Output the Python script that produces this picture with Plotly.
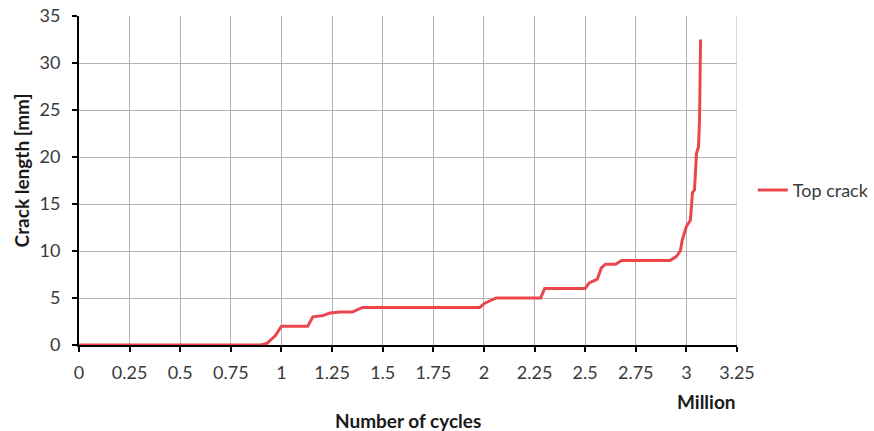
import plotly.graph_objects as go

# Crack growth record (cycles in millions, crack length in mm)
cycles_million = [0.0, 0.90, 0.93, 0.95, 0.97, 1.00, 1.13, 1.155, 1.20, 1.24, 1.29, 1.35,
                  1.40, 1.98, 2.00, 2.02, 2.06, 2.28, 2.30, 2.49, 2.50, 2.52, 2.56, 2.58,
                  2.60, 2.65, 2.68, 2.92, 2.95, 2.97, 2.98, 3.00, 3.02, 3.03, 3.04, 3.05,
                  3.06, 3.065, 3.07]
crack_mm = [0.0, 0.0, 0.2, 0.6, 1.0, 2.0, 2.0, 3.0, 3.1, 3.4, 3.5, 3.5,
            4.0, 4.0, 4.4, 4.6, 5.0, 5.0, 6.0, 6.0, 6.0, 6.6, 7.0, 8.2,
            8.6, 8.6, 9.0, 9.0, 9.4, 10.0, 11.2, 12.6, 13.3, 16.2, 16.5, 20.4,
            21.1, 24.0, 32.5]

x_ticks = [0, 0.25, 0.5, 0.75, 1, 1.25, 1.5, 1.75, 2, 2.25, 2.5, 2.75, 3, 3.25]
x_tick_text = ["0", "0.25", "0.5", "0.75", "1", "1.25", "1.5", "1.75", "2",
               "2.25", "2.5", "2.75", "3", "3.25"]
y_ticks = [0, 5, 10, 15, 20, 25, 30, 35]

font_family = "Lato, 'Open Sans', sans-serif"
tick_font = dict(family=font_family, size=18, color="#3a3a3a")
title_font = dict(family=font_family, size=19, color="#1a1a1a")
grid_color = "#b2b2b2"

fig = go.Figure()
fig.add_trace(go.Scatter(
    x=cycles_million, y=crack_mm, mode="lines", name="Top crack",
    line=dict(color="#ea474c", width=3),
))

fig.update_layout(
    width=874, height=431,
    margin=dict(l=79, r=137, t=16, b=86, autoexpand=False),
    paper_bgcolor="white", plot_bgcolor="white",
    font=tick_font,
    showlegend=True,
    legend=dict(x=1.024, y=0.47, xanchor="left", yanchor="middle",
                font=dict(family=font_family, size=18, color="#3a3a3a"),
                bgcolor="rgba(0,0,0,0)"),
    xaxis=dict(range=[0, 3.25], tickvals=x_ticks, ticktext=x_tick_text,
               tickfont=tick_font,
               showgrid=True, gridcolor=grid_color, gridwidth=1,
               showline=True, linecolor="black", linewidth=2,
               ticks="outside", ticklen=5, tickcolor="black", tickwidth=2,
               ticklabelstandoff=5, zeroline=False),
    yaxis=dict(range=[0, 35], tickvals=y_ticks, tickfont=tick_font,
               showgrid=True, gridcolor=grid_color, gridwidth=1,
               showline=True, linecolor="black", linewidth=2,
               ticks="outside", ticklen=5, tickcolor="black", tickwidth=2,
               ticklabelstandoff=8, zeroline=False),
)

# Right border grid line at the end of the x range
fig.add_shape(type="line", xref="x", yref="paper", x0=3.25, x1=3.25, y0=0, y1=1,
              line=dict(color=grid_color, width=1))

fig.add_annotation(text="<b>Number of cycles</b>", xref="paper", yref="paper",
                   x=0.5, y=-0.229, xanchor="center", yanchor="middle", showarrow=False,
                   font=title_font)
fig.add_annotation(text="<b>Million</b>", xref="x", yref="paper",
                   x=3.1, y=-0.173, xanchor="center", yanchor="middle", showarrow=False,
                   font=title_font)
fig.add_annotation(text="<b>Crack length [mm]</b>", xref="paper", yref="paper",
                   x=-0.087, y=0.53, xanchor="center", yanchor="middle", showarrow=False,
                   textangle=-90, font=title_font)

fig.write_html("out.html")
